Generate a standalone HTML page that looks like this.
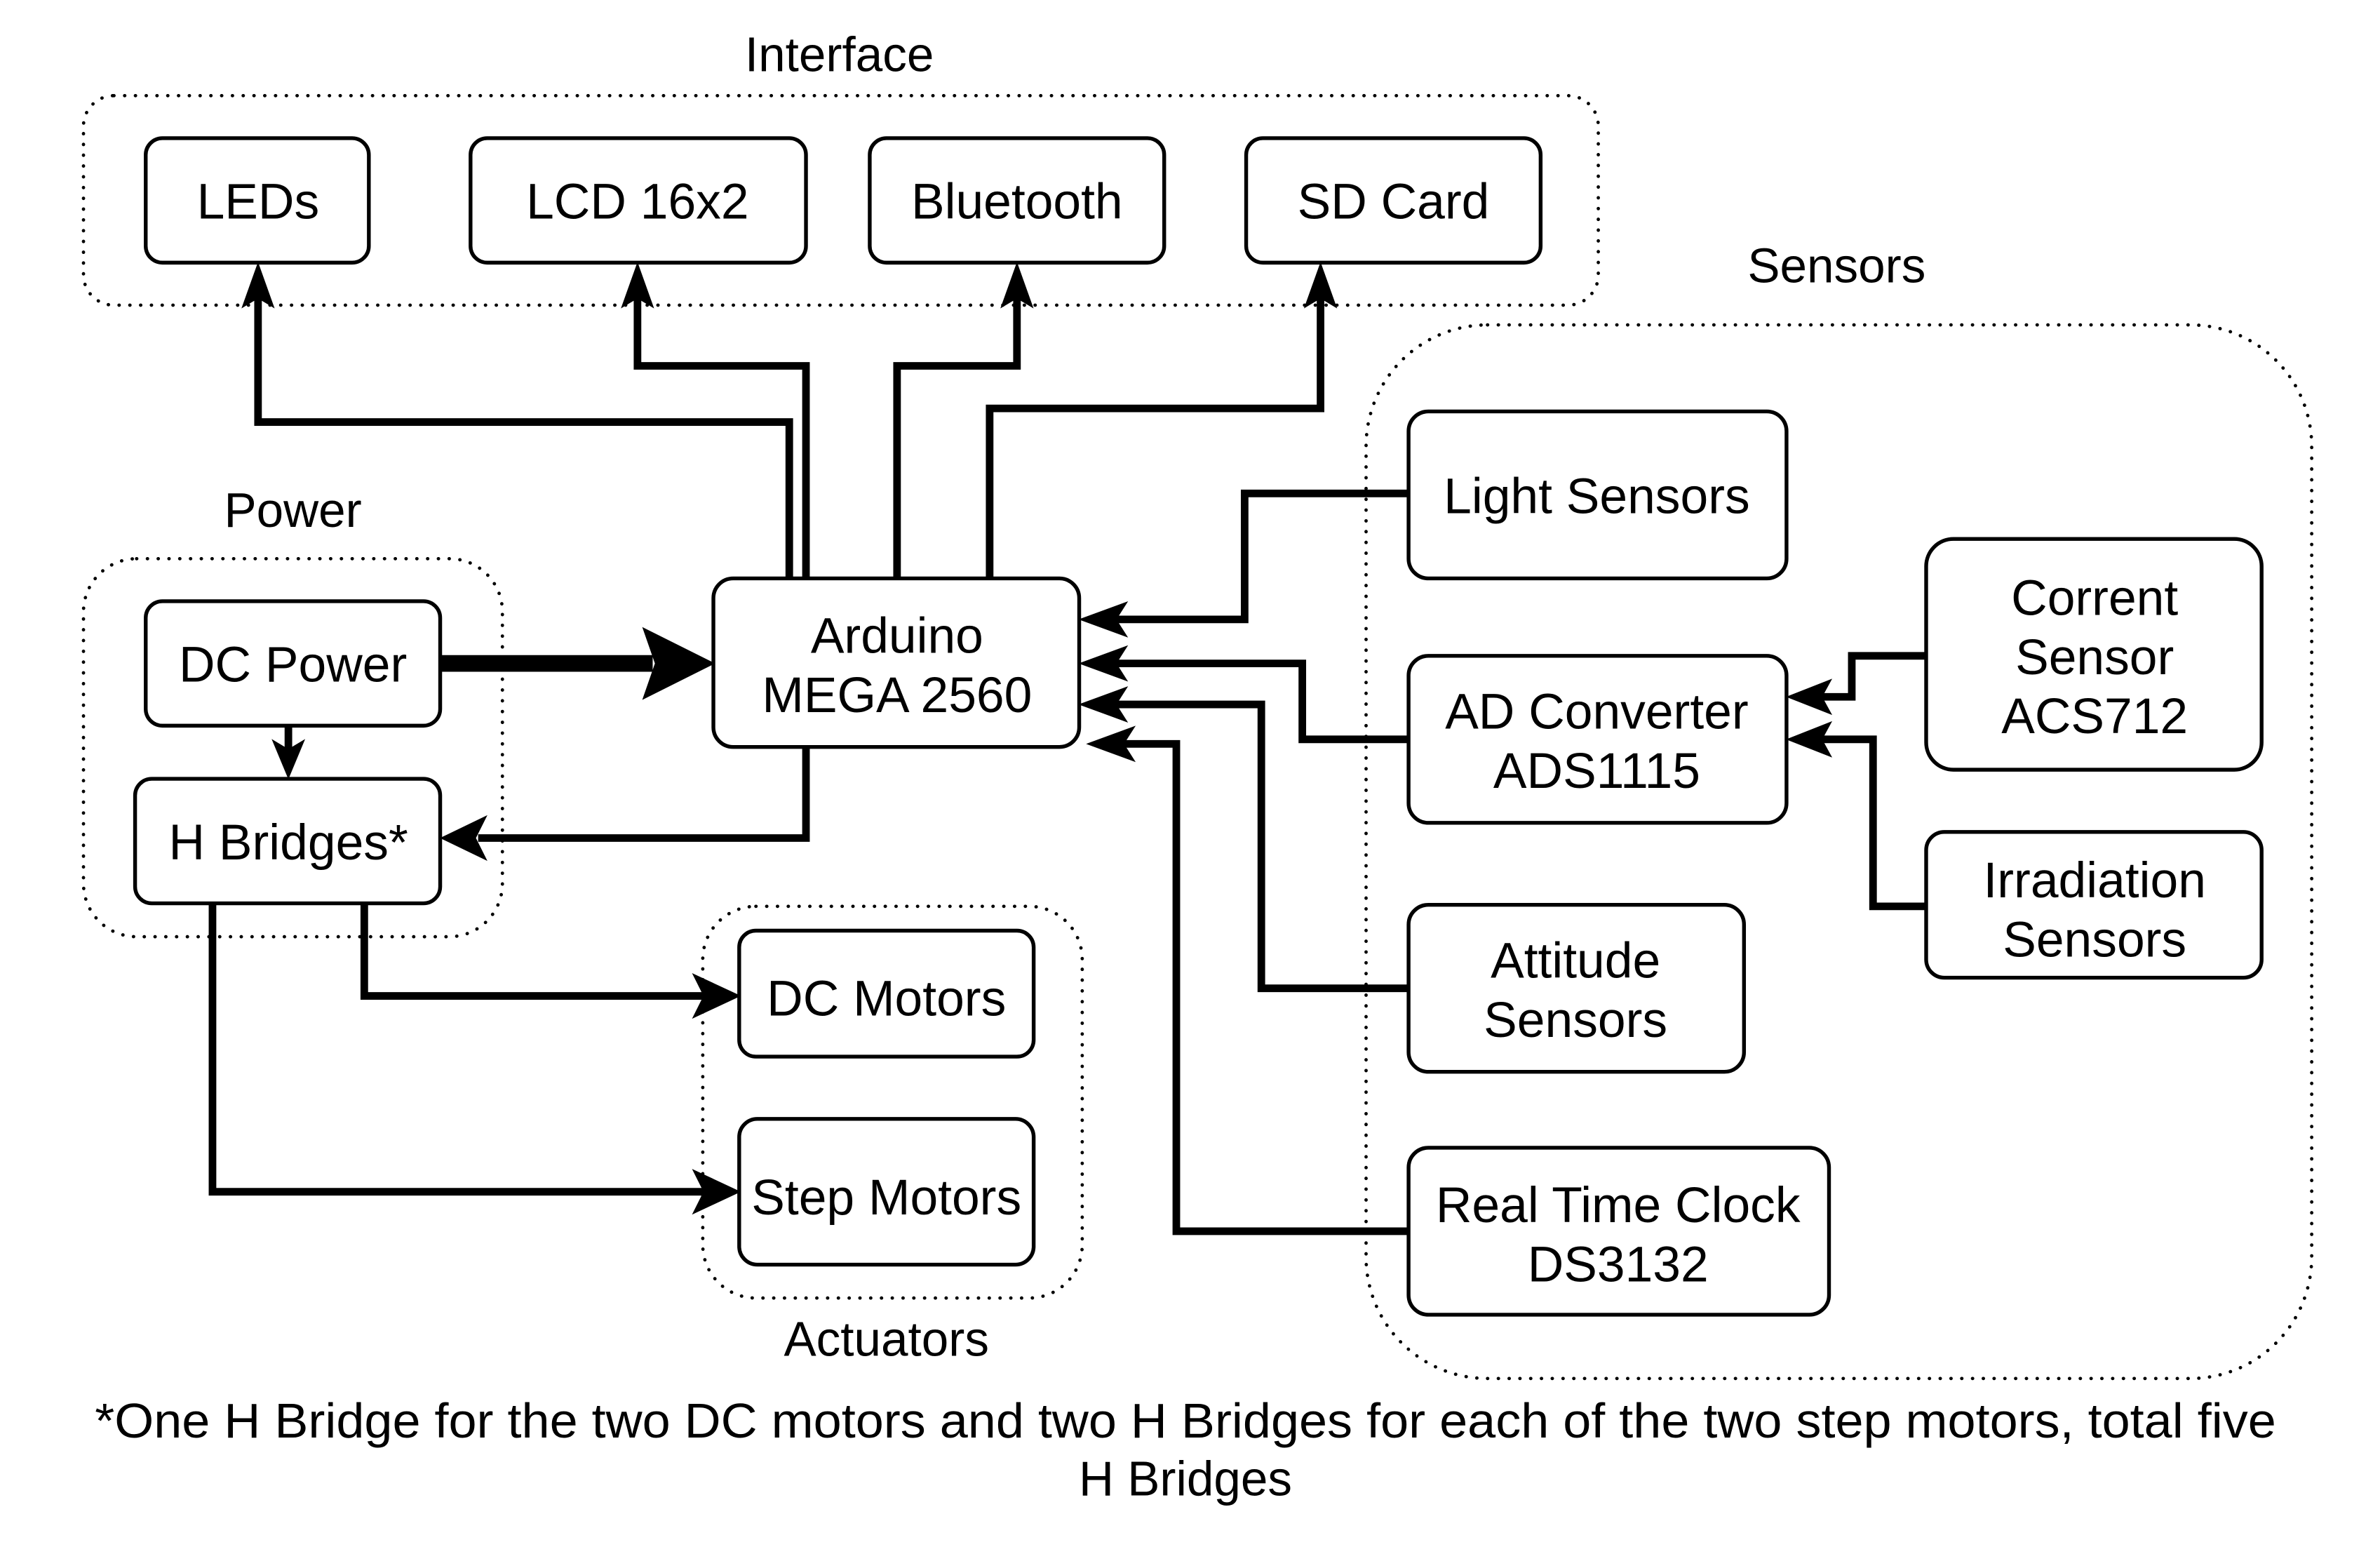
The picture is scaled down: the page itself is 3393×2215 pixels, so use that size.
<!DOCTYPE html>
<html><head><meta charset="utf-8"><style>
html,body{margin:0;padding:0;background:#fff;}
svg{display:block;}
text{font-family:"Liberation Sans",Arial,sans-serif;fill:#000;}
</style></head><body>
<svg width="3393" height="2215" viewBox="0 0 1568 1023.6" xmlns="http://www.w3.org/2000/svg">
<rect width="1568" height="1024" fill="#fff"/>
<g fill="none" stroke="#000" stroke-width="2.2" stroke-dasharray="0.1 7" stroke-linecap="round">
<rect x="55" y="63" width="998" height="138" rx="20"/>
<rect x="900" y="214" width="623" height="694" rx="80"/>
<rect x="55" y="368" width="276" height="249" rx="35"/>
<rect x="463" y="597" width="250" height="258" rx="35"/>
</g>
<g font-size="32" text-anchor="middle">
<text x="553" y="47">Interface</text>
<text x="1210" y="186">Sensors</text>
<text x="193" y="347">Power</text>
<text x="584" y="893">Actuators</text>
<text x="781" y="947" textLength="1437" lengthAdjust="spacingAndGlyphs">*One H Bridge for the two DC motors and two H Bridges for each of the two step motors, total five</text>
<text x="781" y="985">H Bridges</text>
</g>
<g fill="none" stroke="#000" stroke-width="5" stroke-linejoin="miter">
<polyline points="520,381 520,278 170,278 170,195"/>
<polyline points="531,381 531,241 420,241 420,195"/>
<polyline points="591,381 591,241 670,241 670,195"/>
<polyline points="652,381 652,269 870,269 870,195"/>
<polyline points="190,478 190,500"/>
<polyline points="531,492 531,552 315,552"/>
<polyline points="928,325 820,325 820,408 735,408"/>
<polyline points="928,487 858,487 858,437 735,437"/>
<polyline points="928,651 831,651 831,464 735,464"/>
<polyline points="928,811 775,811 775,490 740,490"/>
<polyline points="1269,432 1220,432 1220,459 1200,459"/>
<polyline points="1269,597 1234,597 1234,487 1200,487"/>
<polyline points="240,595 240,656 465,656"/>
<polyline points="140,595 140,785 465,785"/>
<line x1="290" y1="437" x2="430" y2="437" stroke-width="11"/>
</g>
<g fill="#000" stroke="#000" stroke-width="1" stroke-linejoin="miter">
<polygon points="170,174 180,202 170,196 160,202"/>
<polygon points="420,174 430,202 420,196 410,202"/>
<polygon points="670,174 680,202 670,196 660,202"/>
<polygon points="870,174 880,202 870,196 860,202"/>
<polygon points="190,512 180,488 190,494 200,488"/>
<polygon points="291,552 320,538 313,552 320,566"/>
<polygon points="712,408 742,397 735,408 742,419"/>
<polygon points="712,437 742,426 735,437 742,448"/>
<polygon points="712,464 742,453 735,464 742,475"/>
<polygon points="717,490 747,479 740,490 747,501"/>
<polygon points="1178,459 1206,448 1200,459 1206,470"/>
<polygon points="1178,487 1206,476 1200,487 1206,498"/>
<polygon points="487,656 457,642 464,656 457,670"/>
<polygon points="487,785 457,771 464,785 457,799"/>
<polygon points="470,437 424,414 432,437 424,460"/>
</g>
<g fill="#fff" stroke="#000" stroke-width="2.5">
<rect x="96" y="91" width="147" height="82" rx="11"/>
<rect x="310" y="91" width="221" height="82" rx="11"/>
<rect x="573" y="91" width="194" height="82" rx="11"/>
<rect x="821" y="91" width="194" height="82" rx="11"/>
<rect x="928" y="271" width="249" height="110" rx="13"/>
<rect x="928" y="432" width="249" height="110" rx="13"/>
<rect x="928" y="596" width="221" height="110" rx="13"/>
<rect x="928" y="756" width="277" height="110" rx="13"/>
<rect x="1269" y="355" width="221" height="152" rx="18"/>
<rect x="1269" y="548" width="221" height="96" rx="12"/>
<rect x="96" y="396" width="194" height="82" rx="11"/>
<rect x="89" y="513" width="201" height="82" rx="11"/>
<rect x="470" y="381" width="241" height="111" rx="13"/>
<rect x="487" y="613" width="194" height="83" rx="11"/>
<rect x="487" y="737" width="194" height="96" rx="12"/>
</g>
<g font-size="33" text-anchor="middle">
<text x="170" y="144">LEDs</text>
<text x="420" y="144">LCD 16x2</text>
<text x="670" y="144">Bluetooth</text>
<text x="918" y="144">SD Card</text>
<text x="1052" y="338">Light Sensors</text>
<text x="1052" y="480">AD Converter</text>
<text x="1052" y="519">ADS1115</text>
<text x="1038" y="644">Attitude</text>
<text x="1038" y="683">Sensors</text>
<text x="1066" y="805">Real Time Clock</text>
<text x="1066" y="844">DS3132</text>
<text x="1380" y="405">Corrent</text>
<text x="1380" y="444">Sensor</text>
<text x="1380" y="483">ACS712</text>
<text x="1380" y="591">Irradiation</text>
<text x="1380" y="630">Sensors</text>
<text x="193" y="449">DC Power</text>
<text x="190" y="566">H Bridges*</text>
<text x="591" y="430">Arduino</text>
<text x="591" y="469">MEGA 2560</text>
<text x="584" y="669">DC Motors</text>
<text x="584" y="800">Step Motors</text>
</g>
</svg>
</body></html>
